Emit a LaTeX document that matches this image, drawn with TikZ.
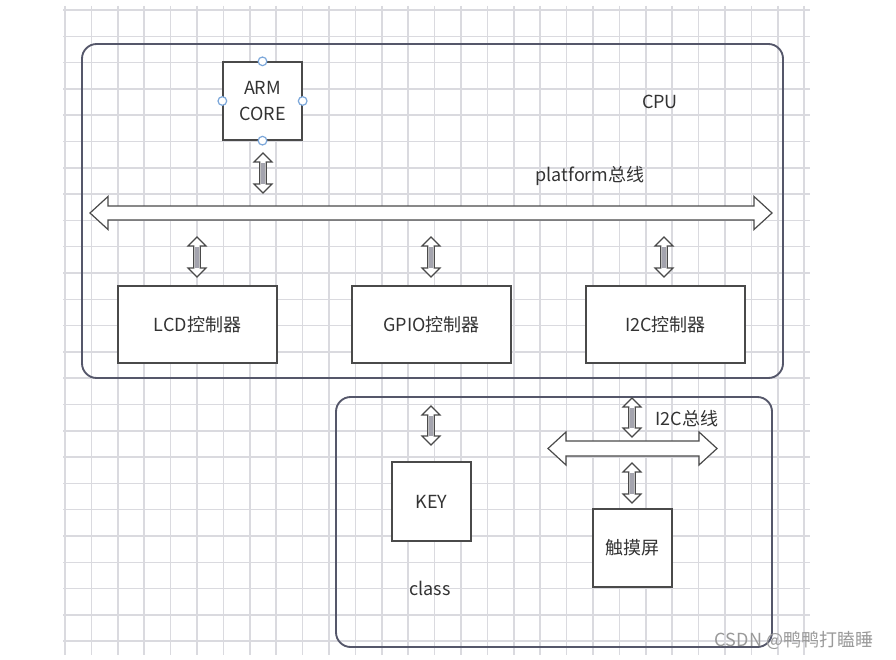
\documentclass[tikz,border=0pt]{standalone}
\usepackage{fontspec}
\setmainfont{Noto Sans CJK SC}
\usetikzlibrary{calc}
\definecolor{gridc}{HTML}{DADADF}
\definecolor{framec}{HTML}{55576A}
\definecolor{boxc}{HTML}{4A4A4A}
\definecolor{txtc}{HTML}{333333}
\definecolor{handlec}{HTML}{7BA7DA}
\definecolor{shaftc}{HTML}{A4A4AE}
\definecolor{wmc}{HTML}{9A9A9A}
\tikzset{
  frame/.style={draw=framec, line width=1.4pt, rounded corners=11pt, fill=none, inner sep=0pt},
  blockbox/.style={draw=boxc, line width=1pt, fill=white, inner sep=0pt, text=txtc,
     font=\fontsize{13.5}{19.5}\selectfont, align=center},
  lbl/.style={text=txtc, font=\fontsize{13.5}{16}\selectfont, inner sep=0pt},
  handle/.style={circle, draw=handlec, fill=white, line width=0.9pt, minimum size=6.5pt, inner sep=0pt},
  barrow/.style={draw=boxc, line width=0.9pt, fill=white, line join=miter},
}
% vertical double block arrow: x, ytop, ybottom (pixels)
\newcommand\vbiarrow[3]{%
  \draw[barrow] (#1,#2) -- ({#1+9},{#2+9}) -- ({#1+3.2},{#2+9}) -- ({#1+3.2},{#3-9}) -- ({#1+9},{#3-9})
     -- (#1,#3) -- ({#1-9},{#3-9}) -- ({#1-3.2},{#3-9}) -- ({#1-3.2},{#2+9}) -- ({#1-9},{#2+9}) -- cycle;
  \fill[shaftc] ({#1-2},{#2+9.5}) rectangle ({#1+2},{#3-9.5});
}
% horizontal double block arrow: xleft, xright, ycenter, headlen, headhalf, shafthalf
\newcommand\hbiarrow[6]{%
  \draw[barrow] (#1,#3) -- ({#1+#4},{#3-#5}) -- ({#1+#4},{#3-#6}) -- ({#2-#4},{#3-#6}) -- ({#2-#4},{#3-#5})
     -- (#2,#3) -- ({#2-#4},{#3+#5}) -- ({#2-#4},{#3+#6}) -- ({#1+#4},{#3+#6}) -- ({#1+#4},{#3+#5}) -- cycle;
}
\begin{document}
\begin{tikzpicture}[x=0.75pt,y=-0.75pt]
\useasboundingbox (0,0) rectangle (896,660);
\fill[white] (0,0) rectangle (896,660);
% grid
\foreach \i in {0,...,28} {
  \draw[gridc, line width=1.1pt] ({65+26.4*\i},6) -- ({65+26.4*\i},655);
}
\foreach \j in {0,...,24} {
  \draw[gridc, line width=1.1pt] (63,{10+26.3*\j}) -- (810,{10+26.3*\j});
}
% frames
\node[frame, minimum width=525.75pt, minimum height=250.5pt] (cpuframe) at (432.5,211) {};
\node[frame, minimum width=327pt, minimum height=187.5pt] (devframe) at (554,522) {};
% ARM core
\node[blockbox, minimum width=59.25pt, minimum height=58.5pt] (arm) at (262.5,101) {ARM\\CORE};
\node[handle] (hT) at (arm.north) {};
\node[handle] (hB) at (arm.south) {};
\node[handle] (hL) at (arm.west) {};
\node[handle] (hR) at (arm.east) {};
% labels
\node[lbl] (cpulbl) at (660,102) {CPU};
\node[lbl] (platlbl) at (590,176) {platform总线};
\node[lbl] (i2clbl) at (687,419) {I2C总线};
\node[lbl] (classlbl) at (430,588) {class};
\node[text=wmc, font=\fontsize{13.5}{16}\selectfont, inner sep=0pt] (wm) at (794,640) {CSDN @鸭鸭打瞌睡};
% platform bus
\hbiarrow{90}{772}{213}{18}{16.5}{7}
% controllers
\node[blockbox, minimum width=119.25pt, minimum height=57.75pt] (lcd) at (197.5,324.5) {LCD控制器};
\node[blockbox, minimum width=119.25pt, minimum height=57.75pt] (gpio) at (431.5,324.5) {GPIO控制器};
\node[blockbox, minimum width=119.25pt, minimum height=57.75pt] (i2c) at (665.5,324.5) {I2C控制器};
% devices
\node[blockbox, minimum width=59.25pt, minimum height=59.25pt] (key) at (431.5,501.5) {KEY};
\node[blockbox, minimum width=59.25pt, minimum height=58.5pt] (touch) at (632.5,548) {触摸屏};
% I2C bus
\hbiarrow{548}{717}{448.5}{18}{16.5}{7.5}
% small arrows
\vbiarrow{263}{153}{193}
\vbiarrow{197}{237}{277}
\vbiarrow{431}{237}{277}
\vbiarrow{664}{237}{277}
\vbiarrow{431}{406}{445}
\vbiarrow{632}{398}{437}
\vbiarrow{632}{463}{503}
\end{tikzpicture}
\end{document}
